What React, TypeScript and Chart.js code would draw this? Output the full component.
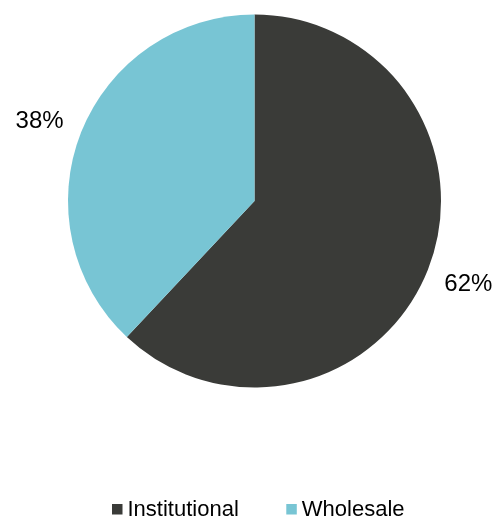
import React, { useEffect, useRef } from "react";
import { Chart, registerables } from "chart.js";

Chart.register(...registerables);

const categories = ["Institutional", "Wholesale"];
const shares = [62, 38];
const percentLabels = ["62%", "38%"];
const colors = ["#3a3b38", "#78c5d4"];

const FONT = "'Liberation Sans', Arial, Helvetica, sans-serif";

const outsideLabels = {
  id: "outsideLabels",
  afterDatasetsDraw(chart: any) {
    const ctx = chart.ctx;
    const meta = chart.getDatasetMeta(0);
    ctx.save();
    ctx.font = `24px ${FONT}`;
    ctx.fillStyle = "#000000";
    ctx.textAlign = "center";
    ctx.textBaseline = "alphabetic";
    meta.data.forEach((arc: any, i: number) => {
      const p = arc.getProps(["x", "y", "startAngle", "endAngle", "outerRadius"], true);
      const mid = (p.startAngle + p.endAngle) / 2 - 0.012;
      const r = p.outerRadius + 43;
      const x = p.x + Math.cos(mid) * r;
      const y = p.y + Math.sin(mid) * r;
      ctx.fillText(percentLabels[i], x - 0.5, y + 8.5);
    });
    ctx.restore();
  },
};

const bottomLegend = {
  id: "bottomLegend",
  afterDraw(chart: any) {
    const ctx = chart.ctx;
    ctx.save();
    ctx.font = `22px ${FONT}`;
    ctx.textBaseline = "alphabetic";
    ctx.textAlign = "left";
    let x = 112;
    const baseline = 516;
    categories.forEach((label, i) => {
      ctx.fillStyle = colors[i];
      ctx.fillRect(x, 504, 10.5, 10.5);
      x += 15.5;
      ctx.fillStyle = "#000000";
      ctx.fillText(label, x, baseline);
      x += ctx.measureText(label).width + 47.5;
    });
    ctx.restore();
  },
};

export default function App() {
  const ref = useRef<HTMLCanvasElement>(null);
  useEffect(() => {
    document.body.style.margin = "0";
    const chart = new Chart(ref.current!, {
      type: "pie",
      data: {
        labels: categories,
        datasets: [
          {
            data: shares,
            backgroundColor: colors,
            borderWidth: 0,
          },
        ],
      },
      options: {
        responsive: false,
        animation: false,
        layout: { padding: { left: 68, right: 55, top: 14.5, bottom: 131.5 } },
        plugins: {
          legend: { display: false },
          tooltip: { enabled: false },
        },
      },
      plugins: [outsideLabels, bottomLegend],
    });
    return () => chart.destroy();
  }, []);
  return (
    <div style={{ width: 496, height: 519, background: "#ffffff" }}>
      <canvas ref={ref} width={496} height={519} />
    </div>
  );
}
